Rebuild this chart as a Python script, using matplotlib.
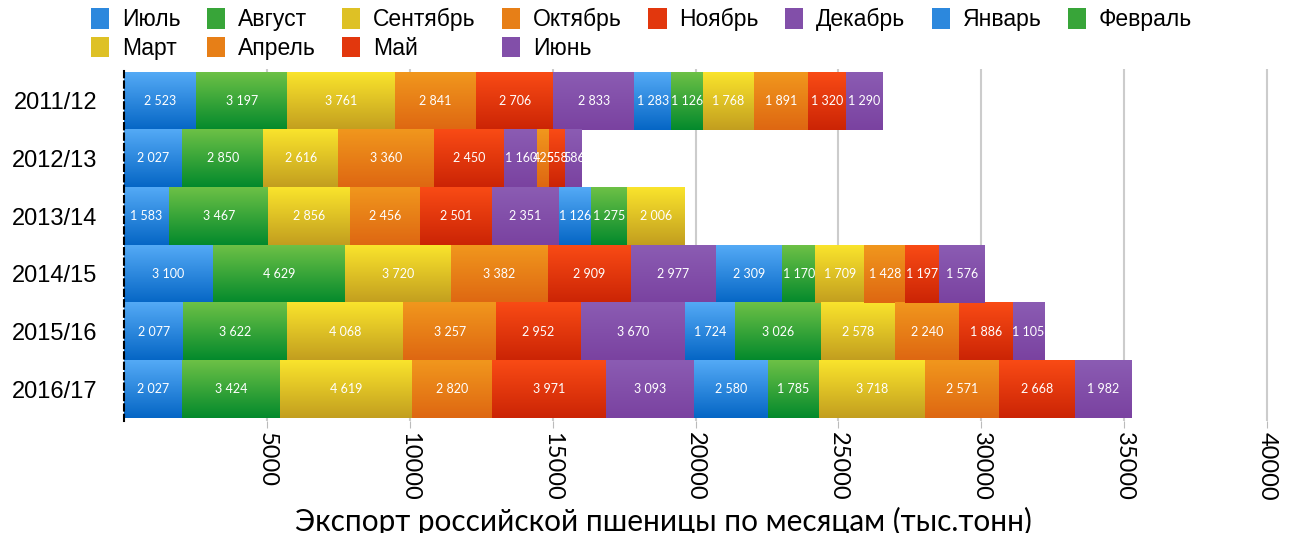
import numpy as np
import matplotlib.pyplot as plt
from matplotlib.colors import LinearSegmentedColormap
from matplotlib.patches import Patch, Rectangle

seasons = ['2011/12', '2012/13', '2013/14', '2014/15', '2015/16', '2016/17']
months  = ['Июль', 'Август', 'Сентябрь', 'Октябрь', 'Ноябрь', 'Декабрь',
           'Январь', 'Февраль', 'Март', 'Апрель', 'Май', 'Июнь']

# export by month, thousand tonnes (Jul .. Jun)
exp_2011 = [2523, 3197, 3761, 2841, 2706, 2833, 1283, 1126, 1768, 1891, 1320, 1290]
exp_2012 = [2027, 2850, 2616, 3360, 2450, 1160, 0, 0, 0, 425, 558, 586]
exp_2013 = [1583, 3467, 2856, 2456, 2501, 2351, 1126, 1275, 2006, 0, 0, 0]
exp_2014 = [3100, 4629, 3720, 3382, 2909, 2977, 2309, 1170, 1709, 1428, 1197, 1576]
exp_2015 = [2077, 3622, 4068, 3257, 2952, 3670, 1724, 3026, 2578, 2240, 1886, 1105]
exp_2016 = [2027, 3424, 4619, 2820, 3971, 3093, 2580, 1785, 3718, 2571, 2668, 1982]

xticks = [5000, 10000, 15000, 20000, 25000, 30000, 35000, 40000]
xlabel = 'Экспорт российской пшеницы по месяцам (тыс.тонн)'

# gradient colours (top, bottom) per month
blue   = ('#54aaf6', '#0566c5')
green  = ('#6dc146', '#03892c')
yellow = ('#fae42c', '#c29e1f')
orange = ('#f1971d', '#de6712')
red    = ('#f94b15', '#cb2405')
purple = ('#8b5cb3', '#7a42a0')
month_cols = [blue, green, yellow, orange, red, purple,
              blue, green, yellow, orange, red, purple]

data = np.array([exp_2011, exp_2012, exp_2013, exp_2014, exp_2015, exp_2016])
ypos = np.arange(len(seasons))
totals = data.sum(axis=1)

W, H = 1308, 533
fig = plt.figure(figsize=(W/100, H/100), dpi=100)
ax = fig.add_axes([124/W, 1-421/H, (1290-124)/W, (421-69)/H])

grad = np.linspace(0, 1, 256).reshape(-1, 1)
left = np.zeros(len(seasons))
handles = []
for j, m in enumerate(months):
    top, bot = month_cols[j]
    cm = LinearSegmentedColormap.from_list('g%d' % j, [top, bot])
    vals = data[:, j]
    bars = ax.barh(ypos, vals, left=left, height=1.0, color=cm(0.5),
                   linewidth=0, zorder=2)
    for i, b in enumerate(bars):
        v = vals[i]
        if v <= 0:
            continue
        l = left[i]
        ax.imshow(grad, cmap=cm, extent=(l, l+v, ypos[i]+0.5, ypos[i]-0.5),
                  aspect='auto', origin='upper', zorder=2.5, interpolation='bilinear')
        # labels are cut at the end of the season's bar
        clip = Rectangle((0, ypos[i]-0.5), totals[i], 1.0, transform=ax.transData)
        t = ax.text(l+v/2, ypos[i], f'{v:,}'.replace(',', ' '), color='white',
                    ha='center', va='center', fontsize=9, family='Lato', zorder=4)
        t.set_clip_path(clip)
    left = left + vals
    handles.append(Patch(facecolor=cm(0.5), edgecolor='none', label=m))

ax.set_xlim(0, 40800)
ax.set_ylim(5.55, -0.55)
ax.set_xticks(xticks)
ax.set_xticklabels([str(x) for x in xticks], rotation=-90, family='Lato', fontsize=17)
ax.set_yticks(ypos)
ax.set_yticklabels(seasons, family='Liberation Sans', fontsize=17)
ax.tick_params(axis='x', length=5, color='#bbbbbb', pad=3)
ax.tick_params(axis='y', length=0, pad=19)
ax.xaxis.grid(True, color='#cccccc', lw=1.5)
ax.set_axisbelow(True)
for s in ['top', 'right', 'bottom']:
    ax.spines[s].set_visible(False)
ax.spines['left'].set_linestyle((0, (3, 2)))
ax.spines['left'].set_linewidth(1.5)
ax.spines['left'].set_zorder(5)

# legend: filled column-wise, so interleave to get rows Jul..Feb / Mar..Jun
order = [0, 8, 1, 9, 2, 10, 3, 11, 4, 5, 6, 7]
fig.legend([handles[k] for k in order], [months[k] for k in order], ncol=8,
           loc='upper left', bbox_to_anchor=(91/W, 1-8/H), frameon=False,
           prop={'family': 'Liberation Sans', 'size': 16.5},
           handlelength=0.8, handleheight=1.0, handletextpad=0.55,
           columnspacing=1.15, borderaxespad=0, borderpad=0, labelspacing=0.25)

fig.text(663/W, 1-521/H, xlabel, ha='center', va='center', fontsize=21.4, family='Lato')

fig.savefig('out.png', dpi=100)
